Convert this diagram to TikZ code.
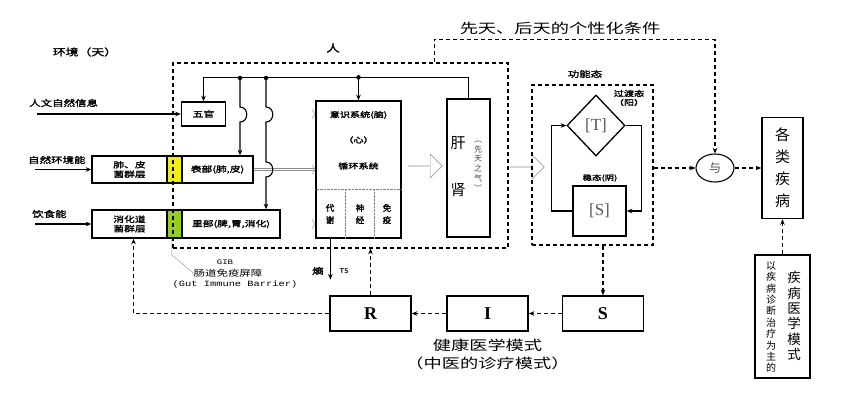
\documentclass[tikz,border=0pt]{standalone}
\usepackage{fontspec}
\setmainfont{Noto Sans CJK SC}[AutoFakeBold=2]
\newfontfamily\widecjk{Noto Sans CJK SC}[FakeStretch=1.35,AutoFakeBold=2]
\newfontfamily\latinserif{Liberation Serif}
\newfontfamily\latinmono{Liberation Mono}[FakeStretch=1.3]
\usetikzlibrary{positioning,arrows.meta,calc,shapes.geometric,shapes.arrows}
\definecolor{BarYellow}{RGB}{240,236,20}
\definecolor{BarGreen}{RGB}{150,205,30}
\definecolor{PipeGray}{RGB}{140,140,140}
\definecolor{LetterGray}{RGB}{90,85,80}
\tikzset{
  flow/.style={-{Stealth[length=2mm,width=1.6mm]},line width=1.1pt},
  dashflow/.style={-{Stealth[length=2mm,width=1.6mm]},line width=1.1pt,dash pattern=on 4pt off 3pt},
  pipe/.style={double=white,double distance=1.6pt,draw=PipeGray,-{Straight Barb[length=3pt,width=9pt]}},
  box/.style={draw,line width=1.3pt,inner sep=1pt,align=center,font=\widecjk\bfseries\fontsize{8}{9.5}\selectfont},
  frame/.style={draw,line width=1.2pt,dash pattern=on 4pt off 3pt,inner sep=0pt},
  strip/.style={draw,line width=1.3pt,minimum width=14pt,inner sep=0pt},
  letterbox/.style={draw,line width=1.4pt,minimum width=81pt,minimum height=35pt,
    font=\latinserif\bfseries\fontsize{18}{20}\selectfont},
  hollow/.style={single arrow,draw=PipeGray,fill=white,minimum height=34pt,
    minimum width=24pt,single arrow head extend=5pt,inner sep=0pt},
  lbl/.style={font=\widecjk\bfseries\fontsize{8.5}{10}\selectfont,inner sep=0pt},
  biglbl/.style={font=\widecjk\fontsize{13.5}{18}\selectfont,inner sep=0pt},
  dot/.style={circle,fill,inner sep=0pt,minimum size=4.5pt}
}

\begin{document}
\begin{tikzpicture}[x=1pt,y=-1pt]
  \useasboundingbox (0,0) rectangle (844,404);
  % environment side
  \node[lbl,font=\widecjk\bfseries\fontsize{9.5}{12}\selectfont] (env) at (85,52) {环境（天）};
  \node[lbl,anchor=west] (info) at (29,103) {人文自然信息};
  \node[lbl,anchor=west] (nat) at (28,160) {自然环境能};
  \node[lbl,anchor=west] (food) at (32,214) {饮食能};
  \coordinate (in1) at (37,114);
  \coordinate (in2) at (35,169.5);
  \coordinate (in3) at (35,224);

  % sense organs and flora layers
  \node[box,minimum width=44pt,minimum height=24pt] (wg) at (203.5,114) {五官};
  \node[box,minimum width=75pt,minimum height=27pt] (lungfl) at (129.5,169.5) {肺、皮\\菌群层};
  \node[strip,fill=BarYellow,minimum height=27pt] (ystrip) at (174.5,169.5) {};
  \node[box,minimum width=71pt,minimum height=27pt] (biao) at (217.5,169.5) {表部(肺,皮)};
  \node[box,minimum width=75pt,minimum height=28pt] (gutfl) at (129.5,224) {消化道\\菌群层};
  \node[strip,fill=BarGreen,minimum height=28pt] (gstrip) at (174.5,224) {};
  \node[box,minimum width=98pt,minimum height=28pt] (li) at (231,224) {里部(脾,胃,消化)};
  \draw[flow] (in1) -- (wg);
  \draw[flow] (in2) -- (lungfl);
  \draw[flow] (in3) -- (gutfl);

  % the human frame
  \node[frame,minimum width=335pt,minimum height=185pt] (human) at (340.5,155.5) {};
  \node[lbl,font=\widecjk\bfseries\fontsize{10}{12}\selectfont] (ren) at (333,48) {人};

  % brain / heart block
  \node[draw,line width=1.3pt,minimum width=85pt,minimum height=137pt,inner sep=0pt] (ms) at (358.5,169.5) {};
  \node[lbl,font=\widecjk\bfseries\fontsize{7.5}{9}\selectfont] (yishi) at (358.5,115) {意识系统(脑)};
  \node[lbl,font=\widecjk\bfseries\fontsize{7.5}{9}\selectfont] (xin) at (358.5,140) {（心）};
  \node[lbl,font=\widecjk\bfseries\fontsize{7.5}{9}\selectfont] (xunhuan) at (358.5,166) {循环系统};
  \node[lbl,align=center,font=\bfseries\fontsize{8.5}{12}\selectfont] (daixie) at (330,214) {代\\谢};
  \node[lbl,align=center,font=\bfseries\fontsize{8.5}{12}\selectfont] (shenjing) at (360,214) {神\\经};
  \node[lbl,align=center,font=\bfseries\fontsize{8.5}{12}\selectfont] (mianyi) at (387,214) {免\\疫};
  \coordinate (cut1) at (345,189);
  \coordinate (cut2) at (374,189);
  \draw[densely dotted,gray] (ms.west |- cut1) -- (ms.east |- cut1);
  \draw[densely dotted,gray] (cut1) -- (cut1 |- ms.south);
  \draw[densely dotted,gray] (cut2) -- (cut2 |- ms.south);

  % liver / kidney
  \node[draw,line width=1.3pt,minimum width=43pt,minimum height=138pt,inner sep=0pt] (gs) at (468.5,168) {};
  \node[inner sep=0pt,font=\fontsize{15}{16}\selectfont] (gan) at (458,143) {肝};
  \node[inner sep=0pt,font=\fontsize{15}{16}\selectfont] (shen) at (458,190) {肾};
  \node[inner sep=0pt,align=center,text=black!75,font=\fontsize{8}{9.8}\selectfont] (qi) at (478,166) {︵\\先\\天\\之\\气\\︶};

  % gray inflow pipes
  \draw[pipe] (wg) -- (wg -| ms.west);
  \draw[pipe] (biao) -- (biao -| ms.west);
  \draw[pipe] (li) -- (li -| ms.west);
  \node[hollow] (push1) at (425,166) {};
  \node[hollow] (push2) at (527,167) {};

  % feedback from liver / kidney
  \path (wg.north) ++(0,-24) coordinate (fb);
  \coordinate (j1) at (240,78);
  \coordinate (j2) at (266,78);
  \draw[line width=1.1pt] (gs.north) |- (fb);
  \draw[flow] (fb) -- (wg.north);
  \draw[flow] (ms.north |- fb) -- (ms.north);
  \draw[flow] (j1) -- (240,107) .. controls +(9,0) and +(9,0) .. (240,122) -- (j1 |- biao.north);
  \draw[flow] (j2) -- (266,107) .. controls +(9,0) and +(9,0) .. (266,122)
    -- (266,162) .. controls +(9,0) and +(9,0) .. (266,177) -- (j2 |- li.north);
  \node[dot] (d1) at (j1) {};
  \node[dot] (d2) at (j2) {};
  \node[dot] (d3) at (ms.north |- fb) {};

  % entropy
  \path ([xshift=15pt]ms.south west) ++(0,41) coordinate (tsend);
  \draw[flow] ([xshift=15pt]ms.south west) -- (tsend);
  \node[lbl] (shang) at (318,271) {熵};
  \node[lbl,font=\bfseries\sffamily\fontsize{7}{8}\selectfont] (ts) at (344,271) {TS};

  % gut immune barrier
  \node[inner sep=0pt,font=\latinmono\fontsize{7}{8}\selectfont] (gib) at (225,262) {GIB};
  \node[inner sep=0pt,font=\widecjk\fontsize{8.5}{9}\selectfont] (gibzh) at (228,273) {肠道免疫屏障};
  \node[inner sep=0pt,font=\latinmono\fontsize{8}{8}\selectfont] (giben) at (235,284) {(Gut Immune Barrier)};
  \draw[PipeGray] ([xshift=-3pt]gstrip.south) -- ++(0,16) -- (gibzh.west);

  % functional state
  \node[frame,minimum width=121pt,minimum height=160pt] (fs) at (592.5,165) {};
  \node[lbl] (gnt) at (585,74) {功能态};
  \node[diamond,draw,line width=1.3pt,minimum width=58pt,minimum height=61pt,inner sep=0pt,
    text=LetterGray,font=\latinserif\fontsize{17}{18}\selectfont] (tn) at (596,125.5) {[T]};
  \node[draw,line width=1.3pt,minimum width=53pt,minimum height=50pt,inner sep=0pt,
    text=LetterGray,font=\latinserif\fontsize{17}{18}\selectfont] (sn) at (599.5,211) {[S]};
  \node[lbl,align=center,font=\widecjk\bfseries\fontsize{7.5}{9}\selectfont] (guodu) at (629,98) {过渡态\\（阳）};
  \node[lbl,font=\widecjk\bfseries\fontsize{7}{8.5}\selectfont] (wentai) at (600,178) {稳态(阴)};
  \draw[flow] (sn.west) -- ++(-21,0) |- (tn.west);
  \draw[flow] (tn.east) -- ++(16,0) |- (sn.east);

  % conditions and disease
  \node[ellipse,draw,line width=1.1pt,minimum width=38pt,minimum height=28pt,inner sep=0pt,
    text=black!70,font=\fontsize{12}{13}\selectfont] (and) at (715,168) {与};
  \node[draw,line width=1.4pt,minimum width=41pt,minimum height=101pt,inner sep=0pt,align=center,
    font=\fontsize{15}{22}\selectfont] (gl) at (782.5,168) {各\\类\\疾\\病};
  \node[biglbl] (cond) at (560,28) {先天、后天的个性化条件};
  \draw[dashflow] ([xshift=262pt]human.north west) -- ++(0,-23) -| (and.north);
  \draw[dashflow] (fs.east |- and) -- (and);
  \draw[dashflow] (and) -- (gl);

  % disease model
  \node[draw,line width=1.4pt,minimum width=55pt,minimum height=123pt,inner sep=0pt] (jb) at (782.5,316.5) {};
  \node[inner sep=0pt,align=center,font=\fontsize{10}{11.4}\selectfont] (ybz) at (771,317) {以\\疾\\病\\诊\\断\\治\\疗\\为\\主\\的};
  \node[inner sep=0pt,align=center,font=\fontsize{13.5}{15.3}\selectfont] (jbms) at (794,316) {疾\\病\\医\\学\\模\\式};
  \draw[dashflow] (jb) -- (gl);

  % health model S -> I -> R
  \node[letterbox] (sbox) at (603,313.5) {S};
  \node[letterbox] (ibox) at (487.5,313.5) {I};
  \node[letterbox] (rbox) at (370.5,313.5) {R};
  \node[biglbl,align=center] (jk) at (487.5,354) {健康医学模式\\（中医的诊疗模式）};
  \draw[dashflow] (sbox |- fs.south) -- (sbox);
  \draw[dashflow] (sbox) -- (ibox);
  \draw[dashflow] (ibox) -- (rbox);
  \draw[dashflow] (rbox) -- (rbox |- human.south);
  \draw[dashflow] (rbox.west) -| ([xshift=4pt]gutfl.south);
\end{tikzpicture}
\end{document}
